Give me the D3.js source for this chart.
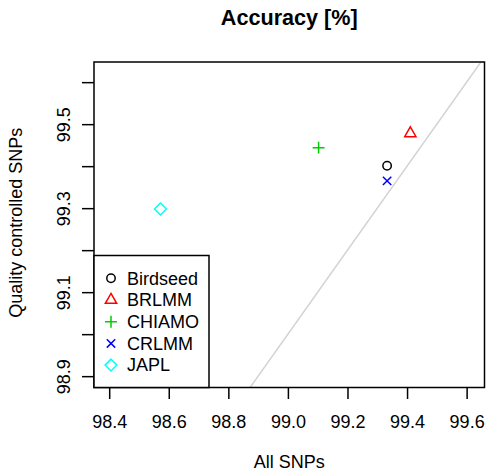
<!DOCTYPE html>
<html>
<head>
<meta charset="utf-8">
<script src="https://cdn.jsdelivr.net/npm/d3@7"></script>
<style>
  body { margin: 0; background: #fff; }
  text { font-family: "Liberation Sans", Arial, Helvetica, sans-serif; }
</style>
</head>
<body>
<div id="chart"></div>
<script>
// data
const methods = ["Birdseed", "BRLMM", "CHIAMO", "CRLMM", "JAPL"];
const allSnps = [99.333, 99.411, 99.103, 99.333, 98.572];
const qcSnps  = [99.401, 99.478, 99.444, 99.365, 99.298];
const colors  = ["#000000", "#ff0000", "#00cd00", "#0000ff", "#00ffff"];
const shapes  = ["circle", "triangle", "plus", "cross", "diamond"];

const xTicks = [98.4, 98.6, 98.8, 99.0, 99.2, 99.4, 99.6];
const yTicks = [98.9, 99.0, 99.1, 99.2, 99.3, 99.4, 99.5, 99.6];
const yLabelled = [98.9, 99.1, 99.3, 99.5];

const W = 486, H = 472;
const box = {left: 94, right: 484.5, top: 62, bottom: 387.5};
const fs = 18;

const svg = d3.select("#chart").append("svg")
    .attr("width", W)
    .attr("height", H);

const x = d3.scaleLinear().domain([98.349, 99.660]).range([box.left, box.right]);
const y = d3.scaleLinear().domain([98.873, 99.648]).range([box.bottom, box.top]);

// outline markers like R pch 1,2,3,4,5
const s = 4.2;
function markerPath(shape){
    const p = d3.path();
    if (shape === "circle") {
        p.arc(0, 0, s, 0, 2 * Math.PI);
    } else if (shape === "triangle") {
        const r = 1.555 * s, xc = 1.347 * s, yc = 0.778 * s;
        p.moveTo(0, -r); p.lineTo(xc, yc); p.lineTo(-xc, yc); p.closePath();
    } else if (shape === "plus") {
        const c = 1.414 * s;
        p.moveTo(-c, 0); p.lineTo(c, 0); p.moveTo(0, -c); p.lineTo(0, c);
    } else if (shape === "cross") {
        p.moveTo(-s, -s); p.lineTo(s, s); p.moveTo(-s, s); p.lineTo(s, -s);
    } else if (shape === "diamond") {
        const c = 1.414 * s;
        p.moveTo(0, -c); p.lineTo(c, 0); p.lineTo(0, c); p.lineTo(-c, 0); p.closePath();
    }
    return p.toString();
}

// clip for the y = x reference line
svg.append("clipPath").attr("id", "plotClip")
    .append("rect")
    .attr("x", box.left).attr("y", box.top)
    .attr("width", box.right - box.left).attr("height", box.bottom - box.top);

const lo = Math.min(x.domain()[0], y.domain()[0]);
const hi = Math.max(x.domain()[1], y.domain()[1]);
svg.append("line")
    .attr("clip-path", "url(#plotClip)")
    .attr("x1", x(lo)).attr("y1", y(lo))
    .attr("x2", x(hi)).attr("y2", y(hi))
    .attr("stroke", "#d3d3d3")
    .attr("stroke-width", 1.5);

// points
const pts = methods.map((m, i) => ({name: m, all: allSnps[i], qc: qcSnps[i], color: colors[i], shape: shapes[i]}));
svg.selectAll(".pt")
    .data(pts)
    .join("path")
    .attr("class", "pt")
    .attr("transform", d => `translate(${x(d.all)},${y(d.qc)})`)
    .attr("d", d => markerPath(d.shape))
    .attr("fill", "none")
    .attr("stroke", d => d.color)
    .attr("stroke-width", 1.5);

// axes
const xAxisG = svg.append("g")
    .attr("transform", `translate(0,${box.bottom})`)
    .call(d3.axisBottom(x).tickValues(xTicks).tickSize(11.5).tickSizeOuter(0).tickFormat(d3.format(".1f")));
xAxisG.select(".domain").remove();
xAxisG.selectAll(".tick line").attr("stroke", "#000").attr("stroke-width", 1.5);
xAxisG.selectAll(".tick text")
    .attr("y", 40).attr("dy", 0)
    .attr("fill", "#000")
    .attr("font-size", fs + "px")
    .attr("font-family", "Liberation Sans, Arial, sans-serif");

const yAxisG = svg.append("g")
    .attr("transform", `translate(${box.left},0)`)
    .call(d3.axisLeft(y).tickValues(yTicks).tickSize(12).tickSizeOuter(0)
        .tickFormat(d => yLabelled.some(v => Math.abs(v - d) < 1e-9) ? d3.format(".1f")(d) : ""));
yAxisG.select(".domain").remove();
yAxisG.selectAll(".tick line").attr("stroke", "#000").attr("stroke-width", 1.5);
yAxisG.selectAll(".tick text")
    .attr("transform", "rotate(-90)")
    .attr("x", 0).attr("y", -24).attr("dy", 0)
    .attr("text-anchor", "middle")
    .attr("fill", "#000")
    .attr("font-size", fs + "px")
    .attr("font-family", "Liberation Sans, Arial, sans-serif");

// plot box
svg.append("rect")
    .attr("x", box.left).attr("y", box.top)
    .attr("width", box.right - box.left).attr("height", box.bottom - box.top)
    .attr("fill", "none")
    .attr("stroke", "#000")
    .attr("stroke-width", 1.5);

// titles
svg.append("text")
    .attr("x", (box.left + box.right) / 2)
    .attr("y", 25)
    .attr("text-anchor", "middle")
    .attr("font-size", (fs * 1.2) + "px")
    .attr("font-weight", "bold")
    .text("Accuracy [%]");

svg.append("text")
    .attr("x", (box.left + box.right) / 2)
    .attr("y", 468)
    .attr("text-anchor", "middle")
    .attr("font-size", fs + "px")
    .text("All SNPs");

svg.append("text")
    .attr("transform", `translate(22,${(box.top + box.bottom) / 2 - 2}) rotate(-90)`)
    .attr("text-anchor", "middle")
    .attr("font-size", fs + "px")
    .text("Quality controlled SNPs");

// legend
const leg = {left: box.left, top: 255.5, right: 209, bottom: box.bottom, row: 21.7, first: 278.3};
svg.append("rect")
    .attr("x", leg.left).attr("y", leg.top)
    .attr("width", leg.right - leg.left).attr("height", leg.bottom - leg.top)
    .attr("fill", "#fff")
    .attr("stroke", "#000")
    .attr("stroke-width", 1.5);

const legItems = svg.selectAll(".legItem")
    .data(pts)
    .join("g")
    .attr("class", "legItem")
    .attr("transform", (d, i) => `translate(${leg.left + 17},${leg.first + i * leg.row})`);

legItems.append("path")
    .attr("d", d => markerPath(d.shape))
    .attr("fill", "none")
    .attr("stroke", d => d.color)
    .attr("stroke-width", 1.5);

legItems.append("text")
    .attr("x", 16)
    .attr("dy", "0.35em")
    .attr("font-size", fs + "px")
    .attr("fill", "#000")
    .text(d => d.name);
</script>
</body>
</html>
